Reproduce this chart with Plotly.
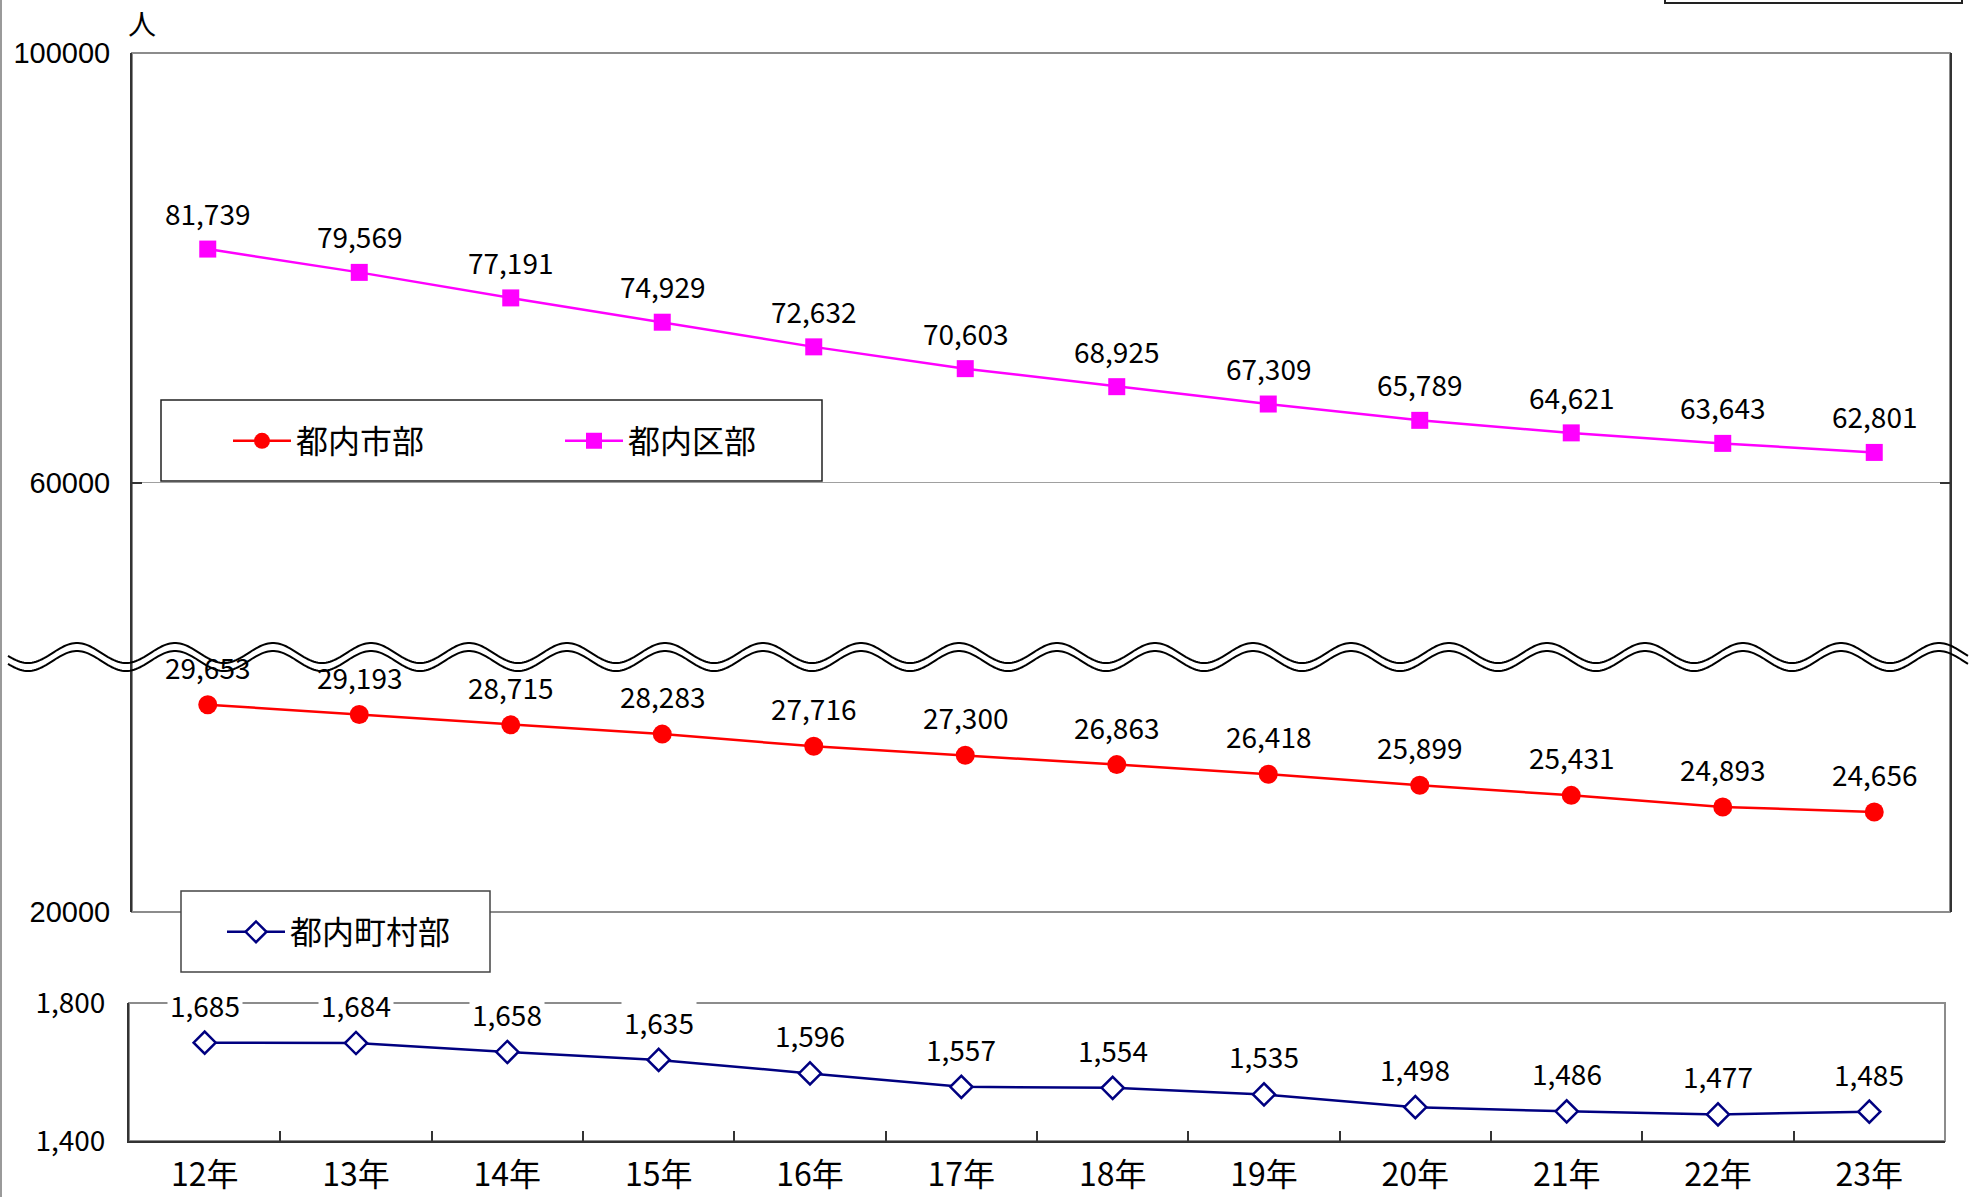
import numpy as np
import plotly.graph_objects as go

# ---- data -------------------------------------------------------------
years = ["12年", "13年", "14年", "15年", "16年", "17年",
         "18年", "19年", "20年", "21年", "22年", "23年"]
ku = [81739, 79569, 77191, 74929, 72632, 70603,
      68925, 67309, 65789, 64621, 63643, 62801]          # 都内区部
shi = [29653, 29193, 28715, 28283, 27716, 27300,
       26863, 26418, 25899, 25431, 24893, 24656]         # 都内市部
chouson = [1685, 1684, 1658, 1635, 1596, 1557,
           1554, 1535, 1498, 1486, 1477, 1485]            # 都内町村部

top_ticks = [20000, 60000, 100000]
bottom_ticks = [1400, 1800]

# ---- canvas helpers ---------------------------------------------------
W, H = 1970, 1197


def px(x):
    return x / W


def py(y):
    return 1 - y / H


CJK = "Noto Sans CJK JP, sans-serif"
LABEL_FONT = dict(family=CJK, size=28, color="black")
DARK = "#333333"
GREY = "#8c8c8c"

fig = go.Figure()

fig.add_trace(go.Scatter(
    x=years, y=shi, name="都内市部", xaxis="x", yaxis="y2",
    mode="lines+markers", legend="legend",
    line=dict(color="#ff0000", width=2.5),
    marker=dict(symbol="circle", size=19, color="#ff0000"),
))
fig.add_trace(go.Scatter(
    x=years, y=ku, name="都内区部", xaxis="x", yaxis="y",
    mode="lines+markers", legend="legend2",
    line=dict(color="#ff00ff", width=2.5),
    marker=dict(symbol="square", size=17, color="#ff00ff"),
))
fig.add_trace(go.Scatter(
    x=years, y=chouson, name="都内町村部", xaxis="x2", yaxis="y3",
    mode="lines+markers", legend="legend3",
    line=dict(color="#000080", width=2.5),
    marker=dict(symbol="diamond", size=17, color="white",
                line=dict(color="#000080", width=2.5)),
))

# ---- value labels ---------------------------------------------------------
ann = []
for yr, v in zip(years, ku):
    ann.append(dict(x=yr, y=v, xref="x", yref="y", text=f"{v:,}",
                    showarrow=False, yshift=36, font=LABEL_FONT))
for yr, v in zip(years, shi):
    ann.append(dict(x=yr, y=v, xref="x", yref="y2", text=f"{v:,}",
                    showarrow=False, yshift=38, font=LABEL_FONT))
for yr, v in zip(years, chouson):
    ann.append(dict(x=yr, y=v, xref="x2", yref="y3", text=f"{v:,}",
                    showarrow=False, yshift=38, font=LABEL_FONT,
                    bgcolor="white", borderpad=2))
# unit label above the top axis
ann.append(dict(x=px(142), y=py(23), xref="paper", yref="paper", text="人",
                xanchor="center", yanchor="middle", showarrow=False,
                font=dict(family=CJK, size=28, color="black")))

# ---- decorative shapes ---------------------------------------------------
shapes = [
    # plot-area frames
    dict(type="rect", xref="x domain", yref="y domain", x0=0, x1=1, y0=0, y1=1,
         line=dict(color=GREY, width=2), layer="below"),
    dict(type="rect", xref="x2 domain", yref="y3 domain", x0=0, x1=1, y0=0, y1=1,
         line=dict(color=GREY, width=2), layer="below"),
    # legend boxes
    dict(type="rect", xref="paper", yref="paper",
         x0=px(161), x1=px(822), y0=py(481), y1=py(400),
         line=dict(color="#222222", width=1.5), fillcolor="white", layer="above"),
    dict(type="rect", xref="paper", yref="paper",
         x0=px(181), x1=px(490), y0=py(972), y1=py(891),
         line=dict(color="#444444", width=1.5), fillcolor="white", layer="above"),
    # box peeking in at the top edge
    dict(type="rect", xref="paper", yref="paper",
         x0=px(1665), x1=px(1962), y0=py(3), y1=py(-20),
         line=dict(color="#222222", width=2), layer="above"),
    # left page edge
    dict(type="line", xref="paper", yref="paper",
         x0=px(1), x1=px(1), y0=0, y1=1,
         line=dict(color="#9a9a9a", width=2), layer="above"),
]

# double wavy line marking the axis break
wx = np.arange(8, 1970, 2.0)
for off in (0, 8):
    wy = 653 + off - 10 * np.cos(2 * np.pi * (wx - 77) / 98.0)
    path = "M " + " L ".join(f"{px(a):.5f},{py(b):.5f}" for a, b in zip(wx, wy))
    shapes.append(dict(type="path", xref="paper", yref="paper", path=path,
                       line=dict(color="black", width=2), layer="above"))

legend_common = dict(orientation="h", bgcolor="rgba(0,0,0,0)", borderwidth=0,
                     xanchor="left", yanchor="middle", itemwidth=58,
                     font=dict(family=CJK, size=32, color="black"))

fig.update_layout(
    width=W, height=H, autosize=False,
    margin=dict(l=0, r=0, t=0, b=0, autoexpand=False),
    paper_bgcolor="white", plot_bgcolor="white",
    showlegend=True,
    legend=dict(x=px(228), y=py(441), **legend_common),
    legend2=dict(x=px(560), y=py(441), **legend_common),
    legend3=dict(x=px(222), y=py(932), **legend_common),
    xaxis=dict(domain=[px(132), px(1950)], anchor="y", type="category",
               range=[-0.5, 11.5], showticklabels=False, showgrid=False,
               showline=False, ticks="", zeroline=False, automargin=False),
    yaxis=dict(domain=[py(912), py(53)], anchor="x", range=[20000, 100000],
               tickvals=top_ticks, ticktext=[str(t) for t in top_ticks],
               ticks="inside", ticklen=10, tickcolor=DARK, tickwidth=2,
               showline=True, linecolor=DARK, linewidth=2,
               showgrid=True, gridcolor="#a0a0a0", gridwidth=1, zeroline=False,
               ticklabelstandoff=14, automargin=False,
               tickfont=dict(family="Liberation Sans, Arial, sans-serif",
                             size=29, color="black")),
    yaxis2=dict(overlaying="y", side="right", anchor="x", range=[20000, 60000],
                tickvals=[20000, 40000, 60000], showticklabels=False,
                ticks="inside", ticklen=10, tickcolor=DARK, tickwidth=2,
                showline=True, linecolor=DARK, linewidth=2,
                showgrid=False, zeroline=False, automargin=False),
    xaxis2=dict(domain=[px(129), px(1945)], anchor="y3", type="category",
                range=[-0.5, 11.5], tickson="boundaries",
                ticks="inside", ticklen=10, tickcolor=DARK, tickwidth=1.5,
                showline=True, linecolor=DARK, linewidth=2, showgrid=False,
                ticklabelstandoff=5, automargin=False,
                tickfont=dict(family=CJK, size=32, color="black")),
    yaxis3=dict(domain=[py(1141), py(1003)], anchor="x2", range=[1400, 1800],
                tickvals=bottom_ticks, ticktext=[f"{t:,}" for t in bottom_ticks],
                ticks="inside", ticklen=10, tickcolor=DARK, tickwidth=2,
                showline=True, linecolor=DARK, linewidth=2, showgrid=False,
                zeroline=False, ticklabelstandoff=16, automargin=False,
                tickfont=dict(family=CJK, size=28, color="black")),
    annotations=ann,
    shapes=shapes,
)

fig.write_html("out.html")
